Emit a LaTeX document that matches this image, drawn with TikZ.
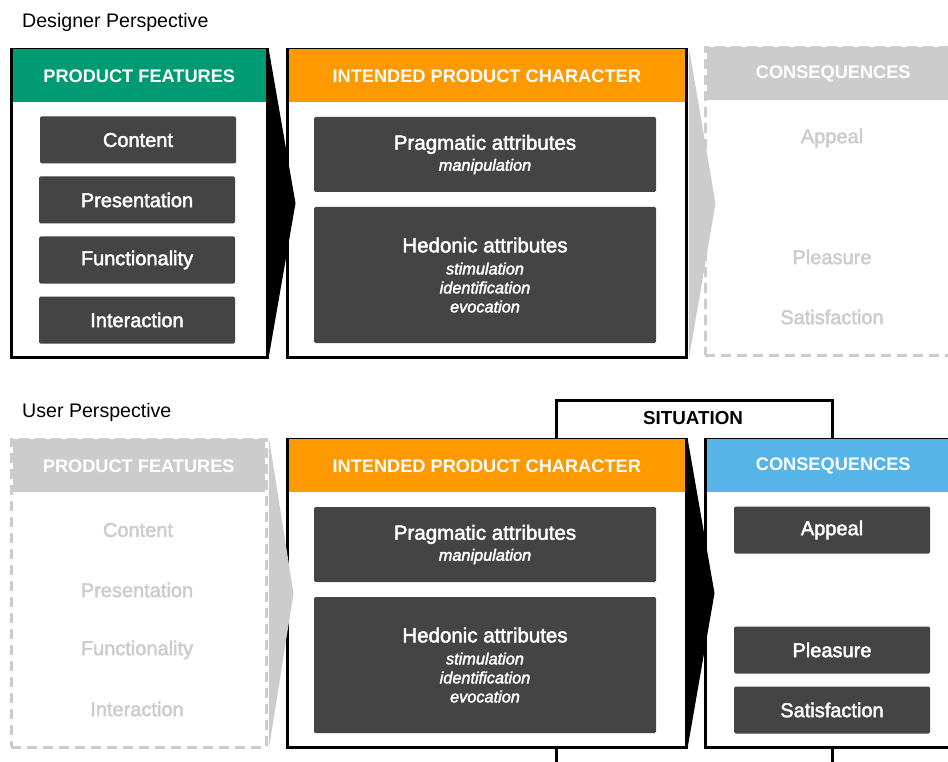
\documentclass[tikz,border=0pt]{standalone}
\usepackage{fontspec}
\setmainfont{Liberation Sans}
\newfontfamily\medfont[FakeBold=2.2]{Liberation Sans}
\usetikzlibrary{calc}

\definecolor{featgreen}{HTML}{009B72}
\definecolor{charorange}{HTML}{FF9900}
\definecolor{consblue}{HTML}{56B4E9}
\definecolor{itemgray}{HTML}{444444}
\definecolor{fadegray}{HTML}{CCCCCC}

\tikzset{
  panel/.style={draw=black, line width=2.5pt, fill=white, anchor=north west, minimum height=308pt, inner sep=0pt},
  fadepanel/.style={panel, draw=fadegray, dash pattern=on 10pt off 6pt},
  header/.style={anchor=north, minimum width=#1, minimum height=53pt, inner sep=0pt, text=white, font=\fontsize{18.2}{20}\selectfont\bfseries},
  item/.style={fill=itemgray, rounded corners=1.5pt, text=white, minimum width=196pt, minimum height=47pt, inner sep=0pt, align=center, font=\fontsize{20}{22}\medfont},
  fadeitem/.style={text=fadegray, inner sep=0pt, font=\fontsize{20}{22}\medfont},
  attr/.style={item, minimum width=342pt, font=\fontsize{16.3}{19}\medfont},
  perspective/.style={anchor=base west, inner sep=0pt, font=\fontsize{19.6}{22}\selectfont},
  flow/.style={fill=black},
  fadeflow/.style={fill=fadegray},
}

\begin{document}
\begin{tikzpicture}[x=1pt, y=-1pt]
  \useasboundingbox (0,0) rectangle (948,762);
  \clip (0,0) rectangle (948,762);

  % designer perspective
  \node[perspective] (desLabel) at (22,27.3) {Designer Perspective};

  \node[panel, minimum width=256pt] (desFeat) at (10,48) {};
  \node[header=253.5pt, fill=featgreen] (desFeatHead) at ($(desFeat.north)+(0,1.25)$) {PRODUCT FEATURES};
  \node[item] (desContent) at (138,140) {Content};
  \node[item] (desPresent) at (137,200) {Presentation};
  \node[item] (desFunc) at (137,260) {Functionality};
  \node[item] (desInter) at (137,320) {Interaction};

  \node[panel, minimum width=399pt] (desChar) at (286,48) {};
  \node[header=396.5pt, fill=charorange] (desCharHead) at ($(desChar.north)+(0,1.25)$) {INTENDED PRODUCT CHARACTER};
  \node[attr, minimum height=75pt] (desPrag) at (485,154.5)
    {{\fontsize{20.5}{22}\medfont Pragmatic attributes}\\[2pt] \itshape manipulation};
  \node[attr, minimum height=136pt] (desHedo) at (485,275)
    {{\fontsize{20.5}{22}\medfont Hedonic attributes}\\[3pt] \itshape stimulation\\ \itshape identification\\ \itshape evocation};

  \node[fadepanel, minimum width=256pt] (desCons) at (704,46) {};
  \node[header=253.5pt, fill=fadegray] (desConsHead) at ($(desCons.north)+(0,1.25)$) {CONSEQUENCES};
  \node[fadeitem] (desAppeal) at (832,138) {Appeal};
  \node[fadeitem] (desPleasure) at (832,257) {Pleasure};
  \node[fadeitem] (desSatis) at (832,317) {Satisfaction};

  \fill[flow] (desFeat.north east) -- ($(desFeat.east)+(27,0)$) -- (desFeat.south east) -- cycle;
  \fill[fadeflow] ($(desChar.north east)+(1.25,-1.25)$) -- ($(desChar.east)+(28,0)$) -- ($(desChar.south east)+(1.25,1.25)$) -- cycle;

  % user perspective
  \node[perspective] (usrLabel) at (22,417.3) {User Perspective};

  \node[draw=black, line width=2.5pt, fill=white, anchor=north west, minimum width=276pt, minimum height=400pt] (situ) at (555,399) {};
  \node[font=\fontsize{18.8}{20}\selectfont\bfseries, inner sep=0pt] (situText) at (693,418.5) {SITUATION};

  \node[fadepanel, minimum width=255pt] (usrFeat) at (10,438) {};
  \node[header=252.5pt, fill=fadegray] (usrFeatHead) at ($(usrFeat.north)+(0,1.25)$) {PRODUCT FEATURES};
  \node[fadeitem] (usrContent) at (138,530) {Content};
  \node[fadeitem] (usrPresent) at (137,590) {Presentation};
  \node[fadeitem] (usrFunc) at (137,650) {Functionality};
  \node[fadeitem] (usrInter) at (137,709) {Interaction};

  \node[panel, minimum width=399pt] (usrChar) at (286,438) {};
  \node[header=396.5pt, fill=charorange] (usrCharHead) at ($(usrChar.north)+(0,1.25)$) {INTENDED PRODUCT CHARACTER};
  \node[attr, minimum height=75pt] (usrPrag) at (485,544.5)
    {{\fontsize{20.5}{22}\medfont Pragmatic attributes}\\[2pt] \itshape manipulation};
  \node[attr, minimum height=136pt] (usrHedo) at (485,665)
    {{\fontsize{20.5}{22}\medfont Hedonic attributes}\\[3pt] \itshape stimulation\\ \itshape identification\\ \itshape evocation};

  \node[panel, minimum width=256pt] (usrCons) at (704,438) {};
  \node[header=253.5pt, fill=consblue] (usrConsHead) at ($(usrCons.north)+(0,1.25)$) {CONSEQUENCES};
  \node[item] (usrAppeal) at (832,530) {Appeal};
  \node[item] (usrPleasure) at (832,650) {Pleasure};
  \node[item] (usrSatis) at (832,710) {Satisfaction};

  \fill[fadeflow] ($(usrFeat.north east)+(1.25,-1.25)$) -- ($(usrFeat.east)+(26,0)$) -- ($(usrFeat.south east)+(1.25,1.25)$) -- cycle;
  \fill[flow] (usrChar.north east) -- ($(usrChar.east)+(27,0)$) -- (usrChar.south east) -- cycle;
\end{tikzpicture}
\end{document}
